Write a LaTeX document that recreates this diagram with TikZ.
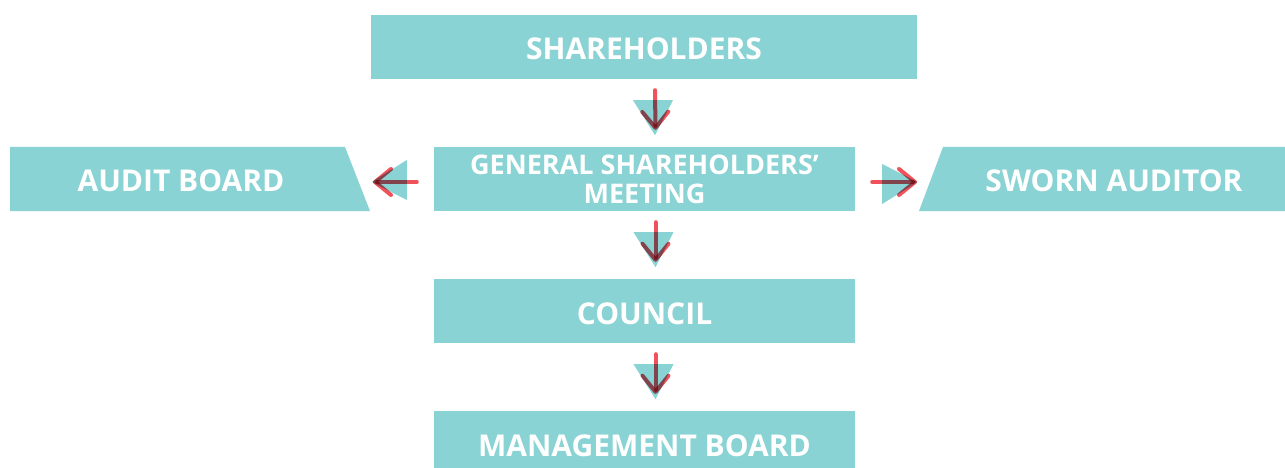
\documentclass[tikz,border=0pt]{standalone}
\usepackage{fontspec}
\setmainfont{Open Sans}
\usetikzlibrary{arrows.meta}

\definecolor{boxteal}{RGB}{138,211,212}
\definecolor{arrowred}{RGB}{240,82,92}

\begin{document}
\begin{tikzpicture}[x=1pt, y=-1pt,
    box/.style={fill=boxteal, text=white, font=\bfseries\fontsize{30}{30}\selectfont,
        minimum width=421pt, minimum height=64pt, inner sep=0pt, align=center},
    onerow/.style={text height=26pt, text depth=0pt},
    sidetext/.style={text=white, font=\bfseries\fontsize{30}{30}\selectfont, inner sep=0pt},
    flowline/.style={draw=arrowred, line width=4pt, line cap=round,
        -{Straight Barb[length=16pt, width=26pt, round]}, blend mode=multiply},
    pics/marker/.style={code={\fill[boxteal] (-22,10) -- (18,10) -- (0,45) -- cycle;}}]
    \path[use as bounding box, clip] (0,0) rectangle (1285,468);

    % main column
    \node[box, onerow, minimum width=546pt] (share) at (644,47) {SHAREHOLDERS};
    \node[box, font=\bfseries\fontsize{27}{29}\selectfont] (gsm) at (644.5,179) {GENERAL SHAREHOLDERS’\\MEETING};
    \node[box, onerow] (council) at (644.5,311) {COUNCIL};
    \node[box, onerow] (mgmt) at (644.5,443) {MANAGEMENT BOARD};

    % side boxes
    \fill[boxteal] (10,147) -- (345,147) -- (370,211) -- (10,211) -- cycle;
    \node[sidetext] (audit) at (181,181) {AUDIT BOARD};
    \fill[boxteal] (943,147) -- (1285,147) -- (1285,211) -- (919,211) -- cycle;
    \node[sidetext] (sworn) at (1114,181) {SWORN AUDITOR};
    \coordinate (auditside) at (373,182);
    \coordinate (swornside) at (917,182);

    % triangles
    \pic at ([shift={(11,11)}]share.south) {marker};
    \pic at ([shift={(11,11)}]gsm.south) {marker};
    \pic at ([shift={(11,11)}]council.south) {marker};
    \pic[rotate=-90] at ([shift={(-17,3)}]gsm.west) {marker};
    \pic[rotate=90] at ([shift={(17,3)}]gsm.east) {marker};

    % arrows
    \draw[flowline] ([shift={(11,11)}]share.south) -- ([shift={(11,-17)}]gsm.north);
    \draw[flowline] ([shift={(11,11)}]gsm.south) -- ([shift={(11,-17)}]council.north);
    \draw[flowline] ([shift={(11,11)}]council.south) -- ([shift={(11,-17)}]mgmt.north);
    \draw[flowline] ([shift={(-17,3)}]gsm.west) -- (auditside);
    \draw[flowline] ([shift={(17,3)}]gsm.east) -- (swornside);
\end{tikzpicture}
\end{document}
